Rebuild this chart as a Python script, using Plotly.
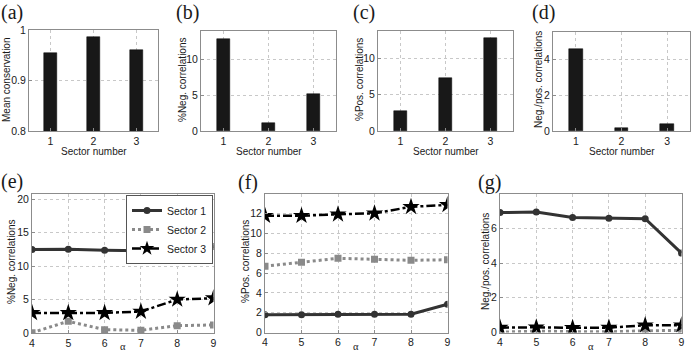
import plotly.graph_objects as go

# ---------------- data ----------------
sectors = [1, 2, 3]
mean_conservation = [0.954, 0.987, 0.960]
neg_corr = [12.9, 1.1, 5.2]
pos_corr = [2.8, 7.3, 12.7]
neg_pos_ratio = [4.55, 0.17, 0.40]

alpha = [4, 5, 6, 7, 8, 9]
neg_s1 = [12.45, 12.5, 12.35, 12.25, 12.2, 12.9]
neg_s2 = [0.05, 1.75, 0.5, 0.4, 1.1, 1.2]
neg_s3 = [3.0, 3.0, 3.0, 3.2, 5.0, 5.2]
pos_s1 = [1.8, 1.8, 1.85, 1.85, 1.85, 2.85]
pos_s2 = [6.7, 7.1, 7.5, 7.4, 7.3, 7.35]
pos_s3 = [11.8, 11.8, 11.95, 12.05, 12.7, 12.9]
ratio_s1 = [6.9, 6.93, 6.62, 6.58, 6.55, 4.57]
ratio_s2 = [0.02, 0.08, 0.05, 0.04, 0.1, 0.12]
ratio_s3 = [0.28, 0.3, 0.27, 0.28, 0.42, 0.42]

W, H = 691, 354
def xd(a, b):
    return [a / W, b / W]
def yd(top, bot):
    return [1 - bot / H, 1 - top / H]

FONT = "Liberation Sans, Arial, sans-serif"
GRID = "#c8c8c8"
AX = "#8c8c8c"
TICK = 10.5

fig = go.Figure()

bar_col = "#181818"
bars = [mean_conservation, neg_corr, pos_corr, neg_pos_ratio]
for i, vals in enumerate(bars):
    n = "" if i == 0 else str(i + 1)
    fig.add_trace(go.Bar(x=sectors, y=vals, width=0.3, marker=dict(color=bar_col, line=dict(color="#000", width=0.5)),
                         xaxis="x" + n, yaxis="y" + n, showlegend=False))

line_sets = [(neg_s1, neg_s2, neg_s3), (pos_s1, pos_s2, pos_s3), (ratio_s1, ratio_s2, ratio_s3)]
for j, (s1, s2, s3) in enumerate(line_sets):
    n = str(j + 5)
    fig.add_trace(go.Scatter(x=alpha, y=s2, mode="lines+markers", name="Sector 2",
                             line=dict(color="#8a8a8a", width=3, dash="dot"),
                             marker=dict(symbol="square", size=7, color="#8a8a8a"),
                             xaxis="x" + n, yaxis="y" + n, showlegend=False))
    fig.add_trace(go.Scatter(x=alpha, y=s3, mode="lines+markers", name="Sector 3",
                             line=dict(color="#000000", width=2.5, dash="dashdot"),
                             marker=dict(symbol="star", size=13, color="#000000"),
                             xaxis="x" + n, yaxis="y" + n, showlegend=False))
    fig.add_trace(go.Scatter(x=alpha, y=s1, mode="lines+markers", name="Sector 1",
                             line=dict(color="#333333", width=3),
                             marker=dict(symbol="circle", size=7, color="#333333"),
                             xaxis="x" + n, yaxis="y" + n, showlegend=False))

# legend-only traces (so the order is Sector 1, 2, 3)
fig.add_trace(go.Scatter(x=[None], y=[None], mode="lines+markers", name="Sector 1",
                         line=dict(color="#333333", width=3), marker=dict(symbol="circle", size=7, color="#333333"),
                         xaxis="x5", yaxis="y5"))
fig.add_trace(go.Scatter(x=[None], y=[None], mode="lines+markers", name="Sector 2",
                         line=dict(color="#8a8a8a", width=3, dash="dot"), marker=dict(symbol="square", size=7, color="#8a8a8a"),
                         xaxis="x5", yaxis="y5"))
fig.add_trace(go.Scatter(x=[None], y=[None], mode="lines+markers", name="Sector 3",
                         line=dict(color="#000000", width=2.5, dash="dashdot"), marker=dict(symbol="star", size=11, color="#000000"),
                         xaxis="x5", yaxis="y5"))

domains = [
    (xd(29, 158), yd(30, 131), [0.8, 1.0], [0.8, 0.9, 1.0], ["0.8", "0.9", "1"]),
    (xd(201, 336), yd(31, 131), [0, 14], [0, 5, 10], None),
    (xd(378, 513), yd(31, 131), [0, 13.7], [0, 5, 10], None),
    (xd(553, 690), yd(32, 131), [0, 5.5], [0, 2, 4], None),
    (xd(32, 213.5), yd(194, 333), [0, 20.75], [0, 5, 10, 15, 20], None),
    (xd(265, 447.5), yd(194, 332.5), [0, 14], [0, 2, 4, 6, 8, 10, 12], None),
    (xd(500, 681.5), yd(193.5, 332.5), [0, 8], [0, 2, 4, 6], None),
]

layout = dict(
    width=W, height=H, margin=dict(l=0, r=0, t=0, b=0, pad=0, autoexpand=False),
    paper_bgcolor="white", plot_bgcolor="white",
    bargap=0, font=dict(family=FONT, size=11, color="#1a1a1a"),
    legend=dict(x=213 / W, y=1 - 195 / H, xanchor="right", yanchor="top",
                bgcolor="white", bordercolor="#555", borderwidth=1,
                font=dict(size=10.5, family=FONT), tracegroupgap=0,
                itemwidth=30, traceorder="normal"),
)
for i, (dx, dy, yr, yt, ytt) in enumerate(domains):
    n = "" if i == 0 else str(i + 1)
    common = dict(showline=True, linecolor=AX, linewidth=1, mirror=True,
                  showgrid=True, gridcolor=GRID, griddash="dot", gridwidth=1,
                  zeroline=False, ticks="inside", ticklen=3, tickcolor=AX,
                  automargin=False,
                  tickfont=dict(size=TICK, family=FONT, color="#1a1a1a"))
    if i < 4:
        xa = dict(domain=dx, range=[0.5, 3.5], tickvals=[1, 2, 3], anchor="y" + n, **common)
    else:
        xa = dict(domain=dx, range=[4, 9], tickvals=alpha, anchor="y" + n, **common)
    ya = dict(domain=dy, range=yr, tickvals=yt, anchor="x" + n, **common)
    if ytt:
        ya["ticktext"] = ytt
    layout["xaxis" + n] = xa
    layout["yaxis" + n] = ya

fig.update_layout(**layout)

ann = []
def A(text, x, y, size=10, angle=0, family=FONT, yanchor="middle"):
    ann.append(dict(text=text, x=x / W, y=1 - y / H, xref="paper", yref="paper",
                    showarrow=False, textangle=angle, font=dict(size=size, family=family, color="#1a1a1a"),
                    xanchor="center", yanchor=yanchor))

SERIF = "Liberation Serif, Times New Roman, serif"
for t, x, y in [("(a)", 12, 12), ("(b)", 187, 12), ("(c)", 364, 12), ("(d)", 543, 12),
                ("(e)", 12, 181), ("(f)", 248, 183), ("(g)", 489, 183)]:
    A(t, x, y, size=20, family=SERIF)

for x in [93.5, 268.5, 445.5, 621.5]:
    A("Sector number", x, 151)
A("Mean conservation", 6, 80, angle=-90)
A("%Neg. correlations", 182, 80, angle=-90)
A("%Pos. correlations", 359, 80, angle=-90)
A("Neg./pos. correlations", 538, 80, angle=-90)

for x in [122.7, 356.2, 590.7]:
    A("α", x, 354, size=10.5, family=SERIF, yanchor="bottom")
A("%Neg. correlations", 11, 262, angle=-90)
A("%Pos. correlations", 245, 262, angle=-90)
A("Neg./pos. correlations", 485, 262, angle=-90)

fig.update_layout(annotations=ann)
fig.write_html("out.html", config={"displayModeBar": False},
               post_script="document.body.style.margin='0';document.body.style.padding='0';")
